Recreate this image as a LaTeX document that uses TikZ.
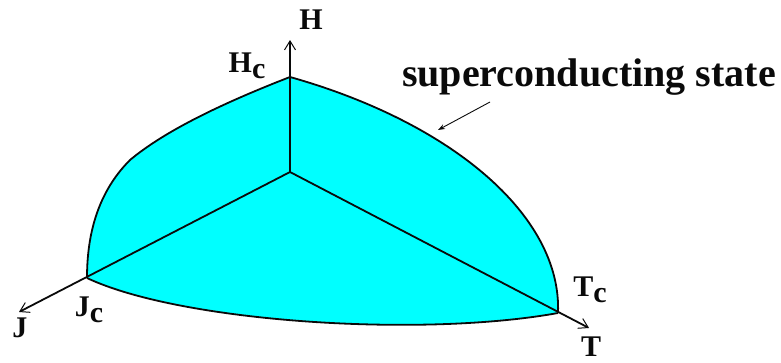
\documentclass[tikz,border=0pt]{standalone}
\usepackage{fontspec}
\setmainfont{Liberation Serif}
\usepackage{tikz}
\usetikzlibrary{positioning,arrows.meta,calc}
\definecolor{scfill}{RGB}{0,255,255}
\definecolor{inkblack}{RGB}{10,10,10}
\tikzset{
  region/.style ={fill=scfill, draw=inkblack, line width=1.6pt, line join=round},
  axis/.style   ={draw=inkblack, line width=1.8pt, -{Straight Barb[length=9pt,width=11pt,line width=1pt]}},
  edge/.style   ={draw=inkblack, line width=1.8pt},
  pointer/.style={draw=inkblack, line width=0.9pt, -{Stealth[length=7pt,width=5pt]}},
  axlbl/.style  ={font=\fontsize{30}{32}\selectfont\bfseries, inner sep=0pt, text=inkblack},
  stlbl/.style  ={font=\fontsize{40}{44}\selectfont\bfseries, inner sep=0pt, text=inkblack, anchor=base},
}
\newcommand{\crit}[1]{#1\raisebox{-6pt}{c}}

\begin{document}
\begin{tikzpicture}[x=1pt,y=-1pt]
\useasboundingbox (0,0) rectangle (781,362);
% corner points of the phase boundary
\coordinate (o)  at (290,172);
\coordinate (hc) at (290,77);
\coordinate (jc) at (87,278);
\coordinate (tc) at (558,313);
\coordinate (htip) at (290,40);
\coordinate (jtip) at (19,312);
\coordinate (ttip) at (589,328);
% superconducting region
\fill[scfill] (hc) .. controls (450,122) and (562,215) .. (tc)
  .. controls (420,338) and (180,322) .. (jc)
  .. controls (87,240) and (95,195) .. (130,160)
  .. controls (160,135) and (210,108) .. (hc) -- cycle;
\draw[edge] (hc) .. controls (450,122) and (562,215) .. (tc);
\draw[edge] (tc) .. controls (420,338) and (180,322) .. (jc);
\draw[edge] (jc) .. controls (87,240) and (95,195) .. (130,160)
  .. controls (160,135) and (210,108) .. (hc);
% axes
\foreach \tip in {htip,jtip,ttip} \draw[axis] (o) -- (\tip);
% labels
\node[axlbl] (hlbl)  at (311,20)  {H};
\node[axlbl] (hclbl) at (247,66)  {\crit{H}};
\node[axlbl] (jlbl)  at (20,328)  {J};
\node[axlbl] (jclbl) at (89,310)  {\crit{J}};
\node[axlbl] (tlbl)  at (591,347) {T};
\node[axlbl] (tclbl) at (590,290) {\crit{T}};
\node[stlbl] (state) at (589,86)  {superconducting state};
\coordinate (ptrstart) at (490,102);
\coordinate (ptrend)   at (438,130);
\draw[pointer] (ptrstart) -- (ptrend);
\end{tikzpicture}
\end{document}
